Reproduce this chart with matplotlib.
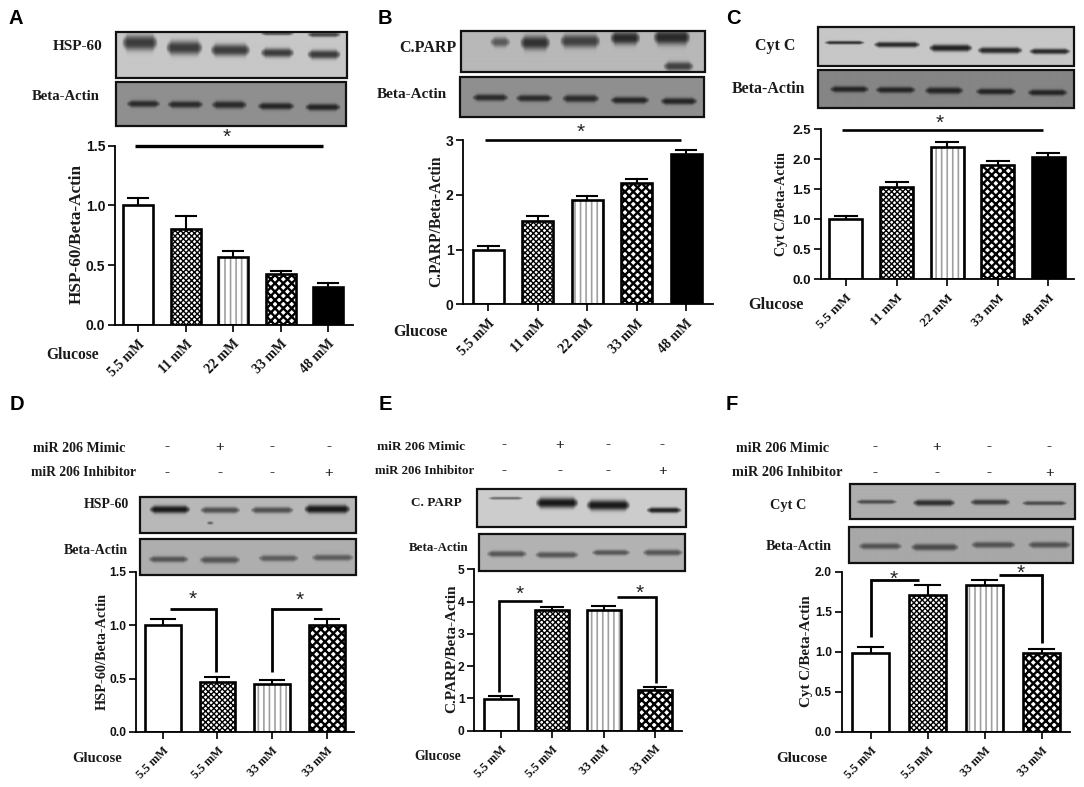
import numpy as np
import matplotlib
matplotlib.use("Agg")
import matplotlib.pyplot as plt
from matplotlib.patches import Rectangle

W, H = 1084, 787
SERIF = ["Liberation Serif", "DejaVu Serif"]
SANS = ["Liberation Sans", "DejaVu Sans"]

# bar values and the top of each error bar
dose_labels = ["5.5 mM", "11 mM", "22 mM", "33 mM", "48 mM"]
treat_labels = ["5.5 mM", "5.5 mM", "33 mM", "33 mM"]
a_vals = [1.0, 0.80, 0.57, 0.43, 0.32]
a_tops = [1.06, 0.915, 0.615, 0.455, 0.35]
b_vals = [1.0, 1.52, 1.90, 2.22, 2.74]
b_tops = [1.06, 1.62, 1.97, 2.29, 2.82]
c_vals = [1.0, 1.53, 2.21, 1.90, 2.04]
c_tops = [1.06, 1.62, 2.29, 1.97, 2.11]
d_vals = [1.0, 0.47, 0.45, 1.0]
d_tops = [1.06, 0.51, 0.485, 1.06]
e_vals = [0.97, 3.75, 3.75, 1.25]
e_tops = [1.07, 3.83, 3.85, 1.36]
f_vals = [0.99, 1.71, 1.84, 0.98]
f_tops = [1.06, 1.83, 1.90, 1.03]
mimic = ["-", "+", "-", "-"]
inhibitor = ["-", "-", "-", "+"]

# blot bands: x0, x1, y, half thickness, darkness (pixels of the panel crops x3)
a_top = [(365, 470, 130, 22, .8), (497, 605, 145, 20, .8), (630, 748, 152, 17, .8),
         (780, 880, 160, 13, .8), (920, 1020, 165, 13, .8), (780, 880, 103, 5, .65), (920, 1020, 106, 7, .75)]
a_act = [(378, 478, 313, 10, .85), (500, 607, 315, 10, .85), (632, 738, 316, 11, .85), (770, 880, 320, 10, .9), (912, 1018, 323, 10, .9)]
b_top = [(390, 450, 128, 14, .6), (480, 570, 130, 20, .85), (600, 720, 125, 19, .75),
         (750, 840, 116, 19, .9), (880, 990, 114, 21, .9), (910, 1000, 200, 13, .75)]
b_act = [(338, 445, 292, 10, .85), (468, 578, 294, 10, .85), (607, 718, 295, 11, .85), (752, 868, 300, 10, .9), (902, 1012, 303, 10, .9)]
c_top = [(312, 432, 128, 5, .85), (460, 598, 134, 8, .9), (625, 755, 144, 10, .95), (770, 905, 151, 9, .9), (925, 1048, 154, 8, .9)]
c_act = [(328, 445, 267, 9, .9), (465, 585, 269, 9, .9), (612, 728, 271, 10, .9), (765, 885, 274, 9, .9), (920, 1040, 277, 9, .9)]
d_top = [(448, 570, 358, 11, 1.0), (600, 720, 360, 9, .65), (752, 880, 360, 9, .65), (912, 1050, 357, 12, 1.0), (620, 640, 398, 6, .85)]
d_act = [(445, 565, 508, 9, .6), (598, 720, 510, 10, .6), (775, 895, 505, 9, .55), (935, 1060, 503, 9, .55)]
e_top = [(385, 490, 326, 4, .55), (528, 655, 340, 15, 1.0), (680, 810, 347, 15, 1.0), (860, 965, 362, 8, .95)]
e_act = [(380, 500, 491, 9, .6), (525, 655, 494, 9, .6), (695, 810, 487, 8, .6), (848, 968, 487, 9, .6)]
f_top = [(408, 530, 337, 6, .65), (578, 705, 340, 9, .85), (750, 870, 338, 8, .75), (905, 1040, 341, 6, .65)]
f_act = [(415, 545, 470, 9, .6), (572, 715, 473, 10, .65), (752, 885, 466, 9, .6), (922, 1050, 466, 9, .6)]

fig = plt.figure(figsize=(W / 100, H / 100), dpi=100)
over = fig.add_axes([0, 0, 1, 1], zorder=5)
over.axis("off")
over.patch.set_alpha(0)


def serif(x, y, s, size=10.5, **kw):
    over.text(x, y, s, family=SERIF, weight="bold", fontsize=size, color="#1a1a1a",
              ha="center", va="center", **kw)


def blot(x0, y0, x1, y1, bands, bg, ox=0, oy=0):
    """Gray membrane strip, bands given in crop pixels (3x) relative to ox, oy."""
    xs, ys = np.meshgrid(np.arange(x0, x1, 0.5), np.arange(y0, y1, 0.5))
    img = np.full(xs.shape, bg, dtype=float)
    dark = np.zeros(xs.shape)
    for b0, b1, yc, h, d in bands:
        bx0, bx1 = ox + b0 / 3, ox + b1 / 3
        ends = np.clip((xs - bx0) / 5, 0, 1) * np.clip((bx1 - xs) / 5, 0, 1)
        thick = (h / 3) * (0.45 + 0.55 * ends) + 1e-6
        prof_y = np.exp(-(np.abs(ys - (oy + yc / 3)) / thick) ** 2.5)
        dark = np.maximum(dark, d * np.sqrt(ends) * prof_y)
    img = img * (1 - dark) + 0.1 * dark
    over.imshow(img, cmap="gray", vmin=0, vmax=1, extent=(x0, x1, y1, y0),
                aspect="auto", interpolation="bilinear", zorder=1)
    over.add_patch(Rectangle((x0, y0), x1 - x0, y1 - y0, fill=False, ec="#111111", lw=1.6, zorder=2))
    over.set_xlim(0, W)
    over.set_ylim(H, 0)


def bracket(pts, lw=2.0):
    xs, ys = zip(*pts)
    over.plot(xs, ys, color="black", lw=lw, solid_capstyle="butt", solid_joinstyle="miter", zorder=3)


def star(x, y):
    over.text(x, y + 3, "*", family=SANS, fontsize=15, ha="center", va="center", color="#222222")


def panel(box, vals, tops, labels, ymax, yticks, fmt, bar_px, tick_px, tick_size=10):
    left, top, right, bottom = box
    ax = fig.add_axes([left / W, 1 - bottom / H, (right - left) / W, (bottom - top) / H])
    x = np.arange(len(vals))
    step = (tick_px[-1] - tick_px[0]) / (len(vals) - 1)
    ax.set_xlim((left - tick_px[0]) / step, (right - tick_px[0]) / step)
    ax.set_ylim(0, ymax)
    w = bar_px / step
    styles = ["plain", "check", "vert", "diam", "solid"][:len(vals)]
    for i, (v, t, st) in enumerate(zip(vals, tops, styles)):
        ax.plot([i, i], [v, t], color="black", lw=1.5, zorder=1)
        ax.plot([i - w / 3, i + w / 3], [t, t], color="black", lw=1.5, zorder=1)
        if st == "check":
            b = ax.bar(i, v, w, color="white", edgecolor="black", hatch="xxxxxx", lw=0, zorder=2)
            b[0].set_hatch_linewidth(1.0)
        elif st == "diam":
            b = ax.bar(i, v, w, color="white", edgecolor="black", hatch="xxxx", lw=0, zorder=2)
            b[0].set_hatch_linewidth(1.7)
        elif st == "vert":
            b = ax.bar(i, v, w, color="white", edgecolor="#a0a0a0", hatch="|||", lw=0, zorder=2)
            b[0].set_hatch_linewidth(1.2)
        elif st == "solid":
            ax.bar(i, v, w, color="black", zorder=2)
        else:
            ax.bar(i, v, w, color="white", zorder=2)
        ax.bar(i, v, w, fill=False, edgecolor="black", lw=1.9, zorder=3)
    for s in ("top", "right"):
        ax.spines[s].set_visible(False)
    for s in ("left", "bottom"):
        ax.spines[s].set_linewidth(1.3)
    ax.set_yticks(yticks)
    ax.set_yticklabels([fmt % t for t in yticks], family=SANS, weight="bold", fontsize=tick_size)
    ax.set_xticks(x)
    ax.set_xticklabels(labels, family=SERIF, weight="bold", rotation=45, ha="right",
                       rotation_mode="anchor", fontsize=tick_size)
    ax.tick_params(axis="both", width=1.3, length=5, pad=2, colors="#111111")
    ax.tick_params(axis="x", pad=4)
    ax.patch.set_alpha(0)
    return ax


# panel letters
for s, x, y in [("A", 16, 19), ("B", 385, 18), ("C", 733, 19), ("D", 17, 404), ("E", 385, 404), ("F", 732, 404)]:
    over.text(x, y, s, family=SANS, weight="bold", fontsize=14.5, ha="center", va="center", color="black")

# A
panel((115, 145.7, 353, 325), a_vals, a_tops, dose_labels, 1.5, [0, .5, 1, 1.5], "%.1f",
      30, [138.3, 185.7, 233.3, 281, 328.3])
blot(115.5, 32, 346.5, 77.5, a_top, .78)
blot(115.5, 82, 346, 125.5, a_act, .56)
serif(78, 46.5, "HSP-60", 11)
serif(66, 97, "Beta-Actin", 10.6)
serif(77, 234, "HSP-60/Beta-Actin", 12.3, rotation=90)
serif(73, 355, "Glucose", 11.2)
bracket([(135, 145.5), (322.7, 145.5)], 2.4)
star(226.7, 134)

# B
panel((463.3, 140, 712.7, 304.3), b_vals, b_tops, dose_labels, 3, [0, 1, 2, 3], "%d",
      31, [488.3, 537.7, 587.3, 636.7, 686])
blot(461, 31, 705, 71.5, b_top, .72, 360)
blot(460.3, 77, 704, 117, b_act, .56, 360)
serif(428, 48, "C.PARP", 11.5)
serif(412, 95, "Beta-Actin", 11)
serif(436, 221, "C.PARP/Beta-Actin", 11.2, rotation=90)
serif(420, 332, "Glucose", 11.6)
bracket([(485, 139.5), (680.7, 139.5)], 1.9)
star(580.7, 129.3)

# C
panel((820.7, 129.3, 1074, 279.3), c_vals, c_tops, dose_labels, 2.5, [0, .5, 1, 1.5, 2, 2.5], "%.1f",
      33, [846, 896.7, 946.7, 997.3, 1048.3], 9.5)
blot(817.7, 26.5, 1074, 66, c_top, .78, 720)
blot(817.7, 70, 1074, 108, c_act, .52, 720)
serif(775, 46.5, "Cyt C", 11.5)
serif(768, 89, "Beta-Actin", 11.4)
serif(781.5, 204.5, "Cyt C/Beta-Actin", 10.1, rotation=90)
serif(776, 305, "Glucose", 11.8)
bracket([(842.3, 129.5), (1042.7, 129.5)], 1.9)
star(940, 120.7)

# D
panel((136, 571.7, 354, 732), d_vals, d_tops, treat_labels, 1.5, [0, .5, 1, 1.5], "%.1f",
      35.7, [162.7, 217, 272, 326.7], 8.7)
blot(140, 497.3, 356, 532.7, d_top, .72, 0, 390)
blot(140, 539.3, 356, 575.3, d_act, .68, 0, 390)
serif(79, 448, "miR 206 Mimic", 10.1)
serif(83.5, 473, "miR 206 Inhibitor", 9.85)
serif(106, 505, "HSP-60", 10)
serif(96, 550, "Beta-Actin", 10)
serif(102, 651, "HSP-60/Beta-Actin", 10.3, rotation=90)
serif(97, 759, "Glucose", 10.5)
for xp, m, i in zip([166.7, 220, 271.7, 329], mimic, inhibitor):
    serif(xp, 447, m, 11)
    serif(xp, 473, i, 11)
bracket([(170, 608.7), (216, 608.7), (216, 671.7)], 2.0)
bracket([(272, 671.7), (272, 608.7), (322, 608.7)], 2.0)
star(193, 596)
star(300, 597)

# E
panel((474.3, 569.3, 681.7, 730.7), e_vals, e_tops, treat_labels, 5, [0, 1, 2, 3, 4, 5], "%d",
      34, [500.7, 552.3, 603.3, 655], 8.7)
blot(477.3, 488.7, 686, 527.3, e_top, .80, 360, 390)
blot(479, 534, 685, 570.7, e_act, .70, 360, 390)
serif(421, 446.5, "miR 206 Mimic", 9.5)
serif(425, 471, "miR 206 Inhibitor", 9.3)
serif(436.7, 503, "C. PARP", 9.5)
serif(439, 547.7, "Beta-Actin", 9.3)
serif(451.7, 649, "C.PARP/Beta-Actin", 11, rotation=90)
serif(438, 757, "Glucose", 9.9)
for xp, m, i in zip([504, 560, 608.3, 662.3], mimic, inhibitor):
    serif(xp, 445, m, 11)
    serif(xp, 471, i, 11)
bracket([(499, 691.7), (499, 600.7), (541.7, 600.7)], 1.9)
bracket([(616.7, 597.3), (656.3, 597.3), (656.3, 682.7)], 1.9)
star(520, 591.7)
star(639.3, 590)

# F
panel((841.7, 571.7, 1070, 732), f_vals, f_tops, treat_labels, 2, [0, .5, 1, 1.5, 2], "%.1f",
      36.7, [870.7, 927.3, 984.3, 1041.7], 8.7)
blot(850, 484, 1075, 519.3, f_top, .68, 720, 390)
blot(849, 526.7, 1073.3, 563.3, f_act, .66, 720, 390)
serif(783, 448, "miR 206 Mimic", 10.2)
serif(787.5, 473, "miR 206 Inhibitor", 10.3)
serif(788, 505, "Cyt C", 10.3)
serif(799, 546.7, "Beta-Actin", 10.3)
serif(806.7, 651, "Cyt C/Beta-Actin", 10.9, rotation=90)
serif(802, 758, "Glucose", 10.9)
for xp, m, i in zip([875, 936.7, 989.3, 1049.3], mimic, inhibitor):
    serif(xp, 447, m, 11)
    serif(xp, 473, i, 11)
bracket([(870.7, 636.7), (870.7, 580), (919, 580)], 2.0)
bracket([(998.7, 575), (1041.7, 575), (1041.7, 642.7)], 2.0)
star(893.3, 576)
star(1020.7, 570)

fig.savefig("out.png", dpi=100)
